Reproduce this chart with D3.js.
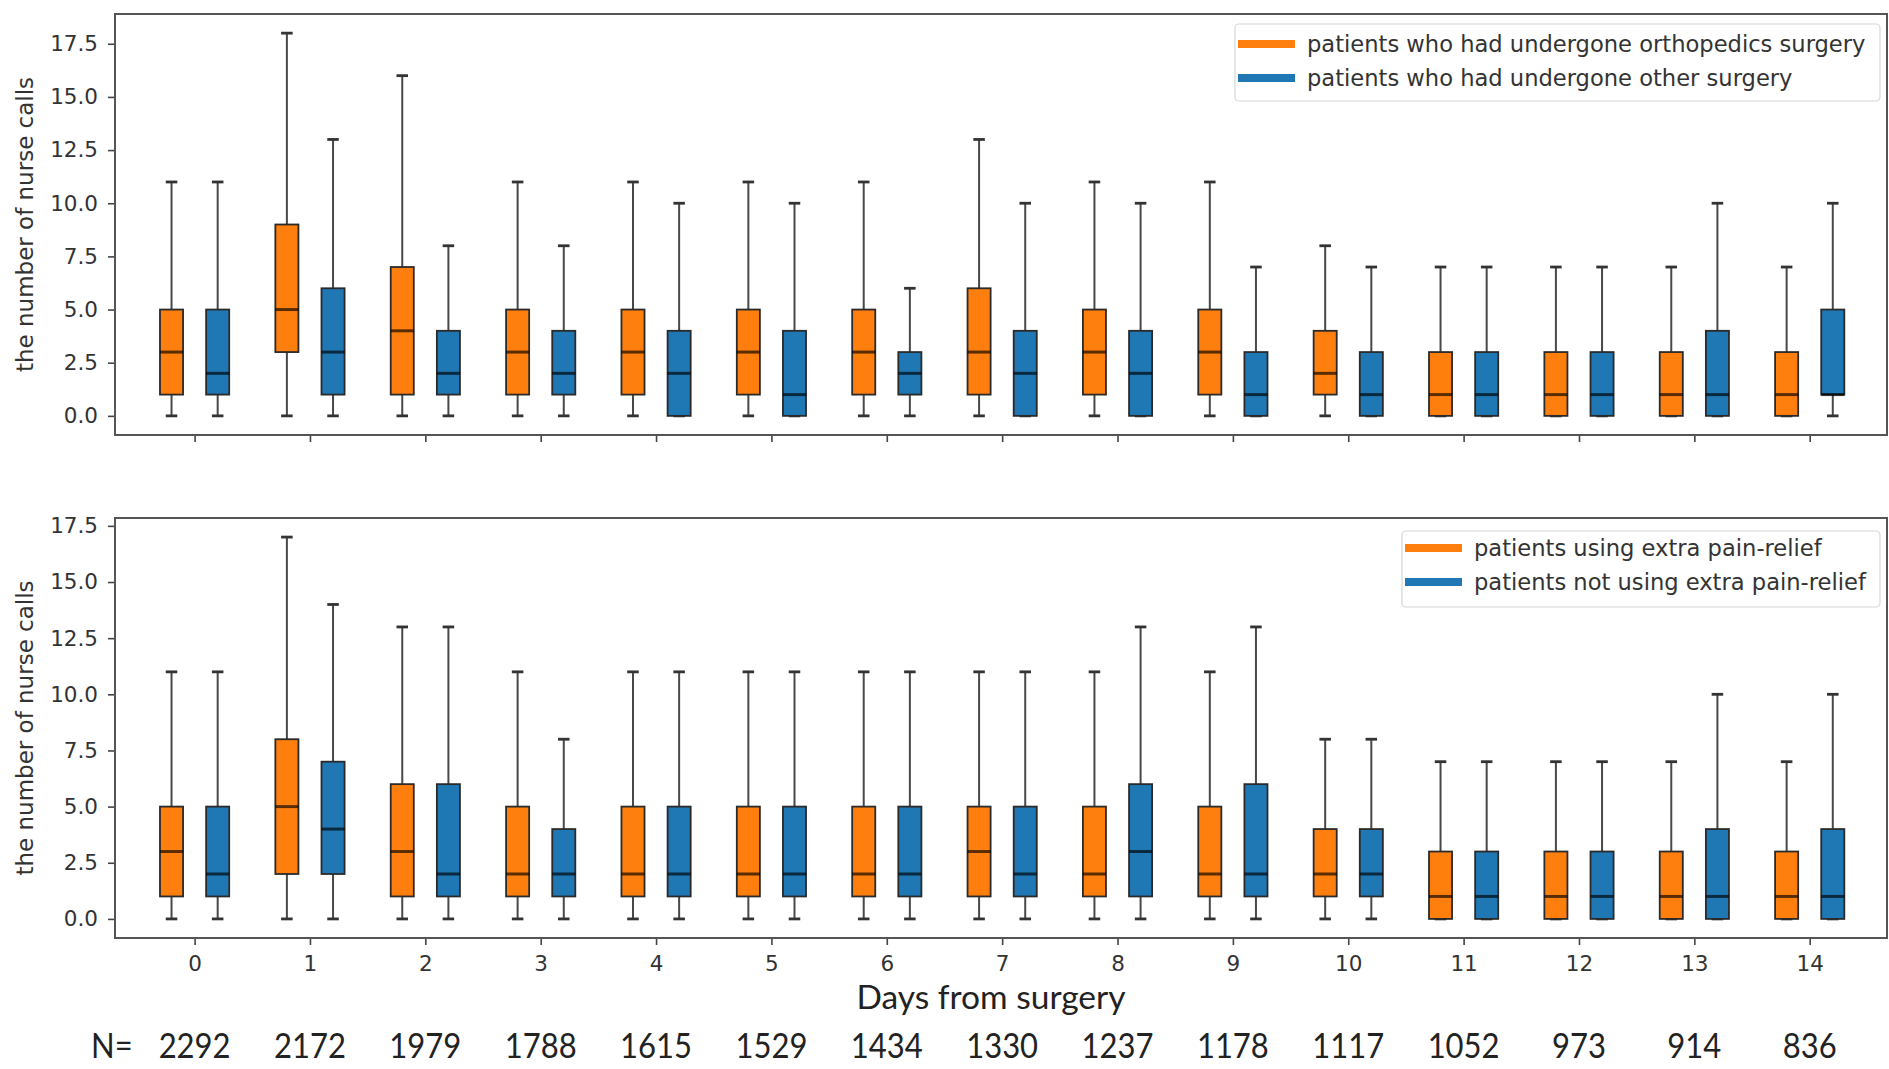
<!DOCTYPE html>
<html>
<head>
<meta charset="utf-8">
<script src="https://cdn.jsdelivr.net/npm/d3@7"></script>
<style>
  html, body { margin: 0; padding: 0; background: #fff; }
  svg { display: block; }
</style>
</head>
<body>
<svg id="chart" width="1889" height="1069"></svg>
<script>
// ---------------- DATA ----------------
const days = [0, 1, 2, 3, 4, 5, 6, 7, 8, 9, 10, 11, 12, 13, 14];
const nCounts = [2292, 2172, 1979, 1788, 1615, 1529, 1434, 1330, 1237, 1178, 1117, 1052, 973, 914, 836];
const yTicks = [0, 2.5, 5, 7.5, 10, 12.5, 15, 17.5];

// [min (lower whisker), q1, median, q3, max (upper whisker)] per day
const orthoStats = [
  [0, 1, 3, 5, 11], [0, 3, 5, 9, 18], [0, 1, 4, 7, 16], [0, 1, 3, 5, 11], [0, 1, 3, 5, 11],
  [0, 1, 3, 5, 11], [0, 1, 3, 5, 11], [0, 1, 3, 6, 13], [0, 1, 3, 5, 11], [0, 1, 3, 5, 11],
  [0, 1, 2, 4, 8], [0, 0, 1, 3, 7], [0, 0, 1, 3, 7], [0, 0, 1, 3, 7], [0, 0, 1, 3, 7]
];
const otherStats = [
  [0, 1, 2, 5, 11], [0, 1, 3, 6, 13], [0, 1, 2, 4, 8], [0, 1, 2, 4, 8], [0, 0, 2, 4, 10],
  [0, 0, 1, 4, 10], [0, 1, 2, 3, 6], [0, 0, 2, 4, 10], [0, 0, 2, 4, 10], [0, 0, 1, 3, 7],
  [0, 0, 1, 3, 7], [0, 0, 1, 3, 7], [0, 0, 1, 3, 7], [0, 0, 1, 4, 10], [0, 1, 1, 5, 10]
];
const reliefStats = [
  [0, 1, 3, 5, 11], [0, 2, 5, 8, 17], [0, 1, 3, 6, 13], [0, 1, 2, 5, 11], [0, 1, 2, 5, 11],
  [0, 1, 2, 5, 11], [0, 1, 2, 5, 11], [0, 1, 3, 5, 11], [0, 1, 2, 5, 11], [0, 1, 2, 5, 11],
  [0, 1, 2, 4, 8], [0, 0, 1, 3, 7], [0, 0, 1, 3, 7], [0, 0, 1, 3, 7], [0, 0, 1, 3, 7]
];
const noReliefStats = [
  [0, 1, 2, 5, 11], [0, 2, 4, 7, 14], [0, 1, 2, 6, 13], [0, 1, 2, 4, 8], [0, 1, 2, 5, 11],
  [0, 1, 2, 5, 11], [0, 1, 2, 5, 11], [0, 1, 2, 5, 11], [0, 1, 3, 6, 13], [0, 1, 2, 6, 13],
  [0, 1, 2, 4, 8], [0, 0, 1, 3, 7], [0, 0, 1, 3, 7], [0, 0, 1, 4, 10], [0, 0, 1, 4, 10]
];

const topLegend = ["patients who had undergone orthopedics surgery", "patients who had undergone other surgery"];
const bottomLegend = ["patients using extra pain-relief", "patients not using extra pain-relief"];
const yLabel = "the number of nurse calls";
const xLabel = "Days from surgery";

// ---------------- STYLE / LAYOUT ----------------
const ORANGE = "#ff7f0e", BLUE = "#1f77b4";
const svg = d3.select("#chart");
const left = 115, right = 1887;
const x = d3.scaleLinear().domain([-0.69, 14.67]).range([left, right]);
const offset = 0.2, boxW = 0.2, capW = 0.1;
const tickFont = "'DejaVu Sans', sans-serif";
const capFont = "Lato, 'Open Sans', sans-serif";

const panels = [
  { top: 14, bottom: 435, domain: [-0.9, 18.9], series: [orthoStats, otherStats], legend: topLegend,
    lg: { x0: 1235, x1: 1880, y0: 24, y1: 101, hx0: 1238, hx1: 1295, tx: 1307, rows: [44, 78] }, xLabels: false },
  { top: 518, bottom: 938, domain: [-0.85, 17.85], series: [reliefStats, noReliefStats], legend: bottomLegend,
    lg: { x0: 1402, x1: 1880, y0: 531, y1: 607, hx0: 1405, hx1: 1462, tx: 1474, rows: [548, 582] }, xLabels: true }
];

panels.forEach(p => {
  const y = d3.scaleLinear().domain(p.domain).range([p.bottom, p.top]);
  const g = svg.append("g");

  // y axis
  const ya = g.append("g").attr("transform", `translate(${left},0)`)
    .call(d3.axisLeft(y).tickValues(yTicks).tickFormat(d3.format(".1f")).tickSize(7).tickPadding(10));
  ya.select(".domain").remove();
  ya.selectAll("line").attr("stroke", "#444").attr("stroke-width", 1.6);
  ya.selectAll("text").attr("font-family", tickFont).attr("font-size", 21.5).attr("fill", "#333");

  // x axis
  const xa = g.append("g").attr("transform", `translate(0,${p.bottom})`)
    .call(d3.axisBottom(x).tickValues(days).tickFormat(p.xLabels ? d3.format("d") : () => "").tickSize(7).tickPadding(11));
  xa.select(".domain").remove();
  xa.selectAll("line").attr("stroke", "#444").attr("stroke-width", 1.6);
  xa.selectAll("text").attr("font-family", tickFont).attr("font-size", 21.5).attr("fill", "#333");

  // y label
  g.append("text")
    .attr("transform", `translate(25,${(p.top + p.bottom) / 2}) rotate(-90)`)
    .attr("text-anchor", "middle").attr("dominant-baseline", "central")
    .attr("font-family", tickFont).attr("font-size", 23).attr("fill", "#333")
    .text(yLabel);

  // boxes
  const colors = [ORANGE, BLUE];
  p.series.forEach((stats, si) => {
    const dx = si === 0 ? -offset : offset;
    const sg = g.append("g");
    const items = sg.selectAll("g.box").data(stats).join("g").attr("class", "box");
    // whiskers
    items.append("line")
      .attr("x1", (d, i) => x(days[i] + dx)).attr("x2", (d, i) => x(days[i] + dx))
      .attr("y1", d => y(d[3])).attr("y2", d => y(d[4]))
      .attr("stroke", "#484848").attr("stroke-width", 2);
    items.append("line")
      .attr("x1", (d, i) => x(days[i] + dx)).attr("x2", (d, i) => x(days[i] + dx))
      .attr("y1", d => y(d[0])).attr("y2", d => y(d[1]))
      .attr("stroke", "#484848").attr("stroke-width", 2);
    // caps
    [0, 4].forEach(k => {
      items.append("line")
        .attr("x1", (d, i) => x(days[i] + dx - capW / 2)).attr("x2", (d, i) => x(days[i] + dx + capW / 2))
        .attr("y1", d => y(d[k])).attr("y2", d => y(d[k]))
        .attr("stroke", "#333").attr("stroke-width", 2.8);
    });
    // box
    items.append("rect")
      .attr("x", (d, i) => x(days[i] + dx - boxW / 2))
      .attr("width", x(boxW) - x(0))
      .attr("y", d => y(d[3])).attr("height", d => y(d[1]) - y(d[3]))
      .attr("fill", colors[si]).attr("stroke", "#2a2a2a").attr("stroke-width", 1.8);
    // median
    items.append("line")
      .attr("x1", (d, i) => x(days[i] + dx - boxW / 2)).attr("x2", (d, i) => x(days[i] + dx + boxW / 2))
      .attr("y1", d => y(d[2])).attr("y2", d => y(d[2]))
      .attr("stroke", "#000").attr("stroke-opacity", 0.65).attr("stroke-width", 3);
  });

  // frame
  g.append("rect").attr("x", left).attr("y", p.top).attr("width", right - left).attr("height", p.bottom - p.top)
    .attr("fill", "none").attr("stroke", "#555").attr("stroke-width", 2);

  // legend
  const L = p.lg;
  g.append("rect").attr("x", L.x0).attr("y", L.y0).attr("width", L.x1 - L.x0).attr("height", L.y1 - L.y0)
    .attr("rx", 4).attr("fill", "#fff").attr("fill-opacity", 0.85).attr("stroke", "#d6d6d6").attr("stroke-width", 1.2);
  p.legend.forEach((lab, i) => {
    g.append("line").attr("x1", L.hx0).attr("x2", L.hx1).attr("y1", L.rows[i]).attr("y2", L.rows[i])
      .attr("stroke", colors[i]).attr("stroke-width", 8);
    g.append("text").attr("x", L.tx).attr("y", L.rows[i]).attr("dominant-baseline", "central")
      .attr("font-family", tickFont).attr("font-size", 22.6).attr("fill", "#333").text(lab);
  });
});

// x label
svg.append("text").attr("x", 991).attr("y", 1009).attr("text-anchor", "middle")
  .attr("font-family", capFont).attr("font-size", 33.5).attr("fill", "#222")
  .text(xLabel);

// N row
const nG = svg.append("g").attr("transform", "translate(0,1058) scale(1,1.14)");
nG.append("text").attr("x", 91).attr("y", 0)
  .attr("font-family", capFont).attr("font-size", 31).attr("fill", "#222")
  .text("N=");
nG.selectAll("text.n").data(nCounts).join("text").attr("class", "n")
  .attr("x", (d, i) => x(days[i])).attr("y", 0).attr("text-anchor", "middle")
  .attr("font-family", capFont).attr("font-size", 31).attr("fill", "#222")
  .text(d => d);
</script>
</body>
</html>
